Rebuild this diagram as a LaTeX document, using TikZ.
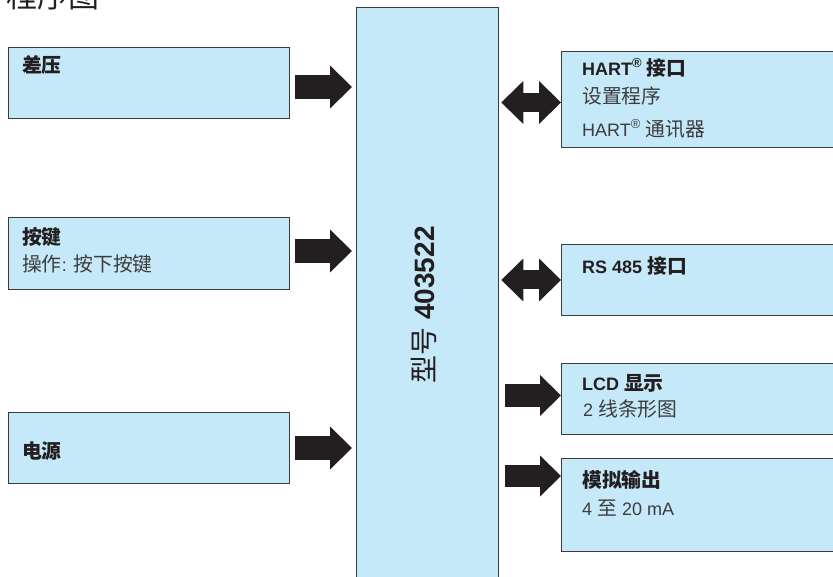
\documentclass[tikz,border=0pt]{standalone}
\usepackage{fontspec}
\setmainfont{Liberation Sans}
\newfontfamily\cjk{Noto Sans CJK SC}
\newfontfamily\cjkbox[Scale=1.1]{Noto Sans CJK SC}
\usetikzlibrary{arrows.meta}

\newcommand{\cn}[1]{{\cjkbox #1}}
\newcommand{\reg}{\raisebox{0.42em}{\fontsize{13}{13}\selectfont ®}}
\definecolor{boxfill}{HTML}{C6E9F9}
\definecolor{boxline}{HTML}{3A3A3A}
\definecolor{ink}{HTML}{231F20}
\definecolor{subink}{HTML}{3C3C3C}

\tikzset{
  box/.style={draw=boxline, fill=boxfill, line width=1.3pt, anchor=north west, inner sep=0pt},
  head/.style={anchor=base west, inner sep=0pt, text=ink, font=\fontsize{18}{20}\selectfont\bfseries},
  sub/.style={anchor=base west, inner sep=0pt, text=subink, font=\fontsize{18}{20}\selectfont},
  inarrow/.style={draw=ink, line width=24pt, -{Triangle[length=22pt,width=43pt,line width=0pt]}},
  outarrow/.style={draw=ink, line width=22pt, -{Triangle[length=21pt,width=41pt,line width=0pt]}},
  bothway/.style={draw=ink, line width=19pt, {Triangle[length=22pt,width=43pt,line width=0pt]}-{Triangle[length=22pt,width=43pt,line width=0pt]}}
}

\begin{document}
\begin{tikzpicture}[x=1pt, y=-1pt]
\useasboundingbox (0,0) rectangle (833,577);

\node[anchor=base west, inner sep=0pt, text=ink, font=\fontsize{31}{31}\selectfont] (title) at (6,8) {{\cjk 程序图}};

% inputs
\node[box, minimum width=281pt, minimum height=71pt] (dp) at (8,47) {};
\node[box, minimum width=281pt, minimum height=72pt] (key) at (8,217) {};
\node[box, minimum width=281pt, minimum height=71pt] (pw) at (8,412) {};

% device
\node[box, minimum width=142pt, minimum height=600pt] (dev) at (356,7) {};
\node[rotate=90, inner sep=0pt, text=ink, font=\fontsize{28}{30}\selectfont] (devA) at (424,305) {{\cjk 型号} \bfseries 403522};

% outputs
\node[box, minimum width=300pt, minimum height=96pt] (hart) at (561,51) {};
\node[box, minimum width=300pt, minimum height=71pt] (rs) at (561,244) {};
\node[box, minimum width=300pt, minimum height=71pt] (lcd) at (561,363) {};
\node[box, minimum width=300pt, minimum height=93pt] (ao) at (561,458) {};

\node[head] (dpA) at (22,73) {\cn{差压}};
\node[head] (keyA) at (22,245) {\cn{按键}};
\node[sub] (keyB) at (22,272) {\cn{操作}: \cn{按下按键}};
\node[head] (pwA) at (22,458) {\cn{电源}};

\node[head] (hartA) at (582,75.5) {HART\reg{} \cn{接口}};
\node[sub] (hartB) at (582,104) {\cn{设置程序}};
\node[sub] (hartC) at (582,136.5) {HART\reg{} \cn{通讯器}};
\node[head] (rsA) at (582,274) {RS 485 \cn{接口}};
\node[head] (lcdA) at (582,390) {LCD \cn{显示}};
\node[sub] (lcdB) at (583,417) {2 \cn{线条形图}};
\node[head] (aoA) at (582,487) {\cn{模拟输出}};
\node[sub] (aoB) at (582,515) {4 \cn{至} 20 mA};

% arrows
\draw[inarrow, shorten <=5pt, shorten >=4pt] (dp.east |- 0,87) -- (dev.west |- 0,87);
\draw[inarrow, shorten <=5pt, shorten >=4pt] (key.east |- 0,251) -- (dev.west |- 0,251);
\draw[inarrow, shorten <=5pt, shorten >=4pt] (pw.east |- 0,448) -- (dev.west |- 0,448);

\draw[bothway, shorten <=2pt] (dev.east |- 0,102.5) -- (hart.west |- 0,102.5);
\draw[bothway, shorten <=2pt] (dev.east |- 0,280) -- (rs.west |- 0,280);
\draw[outarrow, shorten <=6pt] (dev.east |- 0,395.5) -- (lcd.west |- 0,395.5);
\draw[outarrow, shorten <=6pt] (dev.east |- 0,476) -- (ao.west |- 0,476);

\end{tikzpicture}
\end{document}
